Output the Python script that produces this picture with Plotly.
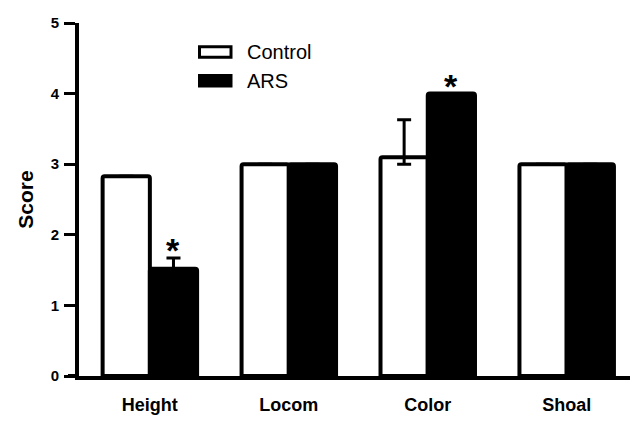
import plotly.graph_objects as go

categories = ["Height", "Locom", "Color", "Shoal"]
control_vals = [2.83, 3.0, 3.1, 3.0]
control_err_plus = [0.0, 0.0, 0.53, 0.0]
control_err_minus = [0.0, 0.0, 0.1, 0.0]
ars_vals = [1.52, 3.0, 4.0, 3.0]
ars_err_plus = [0.15, 0.0, 0.0, 0.0]
sig_labels = ["*", "", "*", ""]
y_ticks = [0, 1, 2, 3, 4, 5]

FONT = "Arial, Liberation Sans, sans-serif"

# page body has an 8px margin; compensate so the plot lands where the reference has it
OFF = 8
W, H = 638 - OFF, 421 - OFF
ML, MR, MT, MB = 79 - OFF, 6, 19 - OFF, 32
px_w = W - ML - MR
px_h = H - MT - MB

fig = go.Figure()
fig.add_trace(go.Bar(
    x=categories, y=control_vals, name="Control",
    marker=dict(color="white", line=dict(color="black", width=4), cornerradius=2),
    error_y=dict(type="data", symmetric=False, array=control_err_plus,
                 arrayminus=control_err_minus, color="black", thickness=3, width=7),
    offsetgroup="c",
))
fig.add_trace(go.Bar(
    x=categories, y=ars_vals, name="ARS",
    marker=dict(color="black", line=dict(color="black", width=4), cornerradius=2),
    error_y=dict(type="data", symmetric=False, array=ars_err_plus,
                 arrayminus=[0] * len(ars_vals), color="black", thickness=3, width=7),
    offsetgroup="a",
))

# significance asterisks above ARS bars
annotations = []
for i, (cat, v, e, s) in enumerate(zip(categories, ars_vals, ars_err_plus, sig_labels)):
    if s:
        annotations.append(dict(
            x=i + 0.17, y=v + e, xref="x", yref="y", text=s, showarrow=False,
            yanchor="middle", yshift=8,
            font=dict(family=FONT, size=34, color="black", weight="bold"),
        ))

def px_to_paper_x(x):
    return (x - OFF - ML) / px_w

def px_to_paper_y(y):
    return 1 - (y - OFF - MT) / px_h

# manual legend (styling)
legend_items = [("Control", "white"), ("ARS", "black")]
shapes = []
for k, (name, col) in enumerate(legend_items):
    y_top = 44 + k * 30
    shapes.append(dict(type="rect", xref="paper", yref="paper",
                       x0=px_to_paper_x(199.5), x1=px_to_paper_x(231),
                       y0=px_to_paper_y(y_top + 11), y1=px_to_paper_y(y_top),
                       fillcolor=col, line=dict(color="black", width=3)))
    annotations.append(dict(
        x=px_to_paper_x(245), y=px_to_paper_y(y_top + 5.5), xref="paper", yref="paper",
        text=name, showarrow=False, xanchor="left", yanchor="middle",
        font=dict(family=FONT, size=20, color="black"),
    ))

# x axis extension to the left beyond y axis (GraphPad style)
shapes.append(dict(type="line", xref="paper", yref="paper", x0=-11 / px_w, x1=0, y0=0, y1=0,
                   line=dict(color="black", width=4)))

fig.update_layout(
    width=W, height=H,
    margin=dict(l=ML, r=MR, t=MT, b=MB),
    plot_bgcolor="white", paper_bgcolor="white",
    barmode="group", bargap=0.32, bargroupgap=0,
    showlegend=False,
    font=dict(family=FONT, color="black"),
    annotations=annotations,
    shapes=shapes,
)
fig.update_xaxes(
    range=[-0.51, 3.47], showline=True, linecolor="black", linewidth=4,
    ticks="", showgrid=False, zeroline=False, ticklabelstandoff=9,
    tickfont=dict(family=FONT, size=18, color="black", weight="bold"),
)
fig.update_yaxes(
    range=[0, 5], tickvals=y_ticks, showline=True, linecolor="black", linewidth=4,
    ticks="outside", ticklen=11, tickwidth=3, tickcolor="black",
    showgrid=False, zeroline=False, ticklabelstandoff=2,
    tickfont=dict(family=FONT, size=15, color="black", weight="bold"),
    title=dict(text="Score", font=dict(family=FONT, size=21, color="black", weight="bold"), standoff=12),
)

fig.write_html("out.html")
